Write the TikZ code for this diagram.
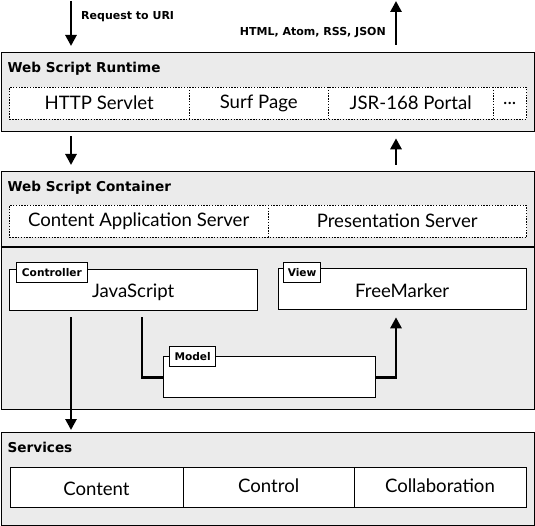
\documentclass[tikz,border=0pt]{standalone}
\usepackage{fontspec}
\setmainfont{Lato}
\newfontfamily\hvfont{DejaVu Sans}[UprightFont=* Bold]
\usetikzlibrary{arrows.meta}
\definecolor{panelgray}{RGB}{235,235,235}
\newcommand\mkbox[7][]{%
  \node[#2, anchor=north west, minimum width={#5-#3}, minimum height={#6-#4}, #1] (#7) at (#3,#4) {};}
\begin{document}
\begin{tikzpicture}[x=1pt,y=-1pt,
  panel/.style={draw=black, line width=1.3pt, fill=panelgray, rectangle, inner sep=0pt},
  wbox/.style={draw=black, line width=1.3pt, fill=white, rectangle, inner sep=0pt},
  dotrow/.style={draw=black, line width=1pt, dash pattern=on 1.4pt off 1.4pt, fill=white, rectangle, inner sep=0pt},
  dotline/.style={draw=black, line width=1pt, dash pattern=on 1.4pt off 1.4pt},
  solidline/.style={draw=black, line width=1.3pt},
  cell/.style={rectangle, inner sep=0pt, font=\fontsize{18.6}{20}\selectfont},
  ptitle/.style={anchor=west, inner sep=0pt, font=\hvfont\fontsize{13.6}{16}\selectfont},
  tagtext/.style={inner sep=0pt, font=\hvfont\fontsize{10.6}{12}\selectfont},
  lbl/.style={inner sep=0pt, font=\hvfont\fontsize{11}{13}\selectfont},
  arr/.style={line width=2.8pt, -{Triangle[width=11pt,length=11pt]}},
  conn/.style={line width=2.8pt}
]
\useasboundingbox (0,0) rectangle (535,526);

% x positions of the vertical arrows
\coordinate (xL) at (71,0);
\coordinate (xR) at (396,0);
\coordinate (xM) at (142,0);
\coordinate (reqTop) at (71,1);
\coordinate (respTop) at (396,1);

% ---------- Web Script Runtime ----------
\mkbox{panel}{0.7}{52}{533.8}{131}{runtime}
\node[ptitle] (rtTitle) at (7.5,69) {Web Script Runtime};
\mkbox{dotrow}{9}{87}{526}{119}{rtRow}
\mkbox{cell}{9}{87}{189}{119}{rtA}
\mkbox{cell}{189}{87}{328}{119}{rtB}
\mkbox{cell}{328}{87}{493}{119}{rtC}
\mkbox{cell}{493}{87}{526}{119}{rtD}
\node[cell] (rtAt) at (rtA) {HTTP Servlet};
\node[cell] (rtBt) at (rtB) {Surf Page};
\node[cell] (rtCt) at (rtC) {JSR-168 Portal};
\node[cell] (rtDt) at (rtD) {...};
\draw[dotline] (rtA.north east) -- (rtA.south east);
\draw[dotline] (rtB.north east) -- (rtB.south east);
\draw[dotline] (rtC.north east) -- (rtC.south east);

% ---------- Web Script Container ----------
\mkbox{panel}{0.7}{171}{533.8}{409}{container}
\coordinate (divL) at (0.7,247);
\coordinate (divR) at (533.8,247);
\draw[solidline, line width=1.1pt] (divL) -- (divR);
\node[ptitle] (ctTitle) at (7.5,188) {Web Script Container};
\mkbox{dotrow}{9}{205}{526}{237}{ctRow}
\mkbox{cell}{9}{205}{268}{237}{ctA}
\mkbox{cell}{268}{205}{526}{237}{ctB}
\node[cell] (ctAt) at (ctA) {Content Application Server};
\node[cell] (ctBt) at (ctB) {Presentation Server};
\draw[dotline] (ctA.north east) -- (ctA.south east);

% controller / view / model
\mkbox{wbox}{8.5}{269}{256.5}{310}{controller}
\node[cell] (jsText) at ([yshift=-2pt]controller.center) {JavaScript};
\mkbox{wbox}{16}{262}{86.5}{282}{ctrlTag}
\node[tagtext] (ctrlTagText) at (ctrlTag) {Controller};

\mkbox{wbox}{277.5}{268}{525.5}{309}{view}
\node[cell] (fmText) at ([yshift=-2pt]view.center) {FreeMarker};
\mkbox{wbox}{283}{262}{320}{282}{viewTag}
\node[tagtext] (viewTagText) at (viewTag) {View};

\mkbox{wbox}{162.5}{356}{375}{397}{model}
\mkbox{wbox}{169}{346}{215}{366}{modelTag}
\node[tagtext] (modelTagText) at (modelTag) {Model};

% ---------- Services ----------
\mkbox{panel}{0.7}{432}{533.8}{525}{services}
\node[ptitle] (svTitle) at (7.5,447) {Services};
\mkbox{wbox}{9.5}{467}{525.5}{507}{svRow}
\mkbox{cell}{9.5}{467}{183}{507}{svA}
\mkbox{cell}{183}{467}{354}{507}{svB}
\mkbox{cell}{354}{467}{525.5}{507}{svC}
\node[cell] (svAt) at ([yshift=-2pt]svA.center) {Content};
\node[cell] (svBt) at ([yshift=1pt]svB.center) {Control};
\node[cell] (svCt) at ([yshift=1pt]svC.center) {Collaboration};
\draw[solidline] (svA.north east) -- (svA.south east);
\draw[solidline] (svB.north east) -- (svB.south east);

% ---------- arrows ----------
\draw[arr, shorten >=6pt] (reqTop) -- (runtime.north -| xL);
\node[lbl, anchor=west] (reqLbl) at (81,16.5) {Request to URI};
\draw[arr, shorten <=7pt] (runtime.north -| xR) -- (respTop);
\node[lbl, anchor=east] (respLbl) at (386,32.5) {HTML, Atom, RSS, JSON};

\draw[arr, shorten <=4pt, shorten >=6pt] (runtime.south -| xL) -- (container.north -| xL);
\draw[arr, shorten <=6pt, shorten >=6pt] (container.north -| xR) -- (runtime.south -| xR);

\draw[arr, shorten <=6pt, shorten >=2pt] (controller.south -| xL) -- (services.north -| xL);
\draw[conn, shorten <=6pt] (controller.south -| xM) |- (model.west);
\draw[arr, shorten >=7pt] (model.east) -| (view.south -| xR);
\end{tikzpicture}
\end{document}
